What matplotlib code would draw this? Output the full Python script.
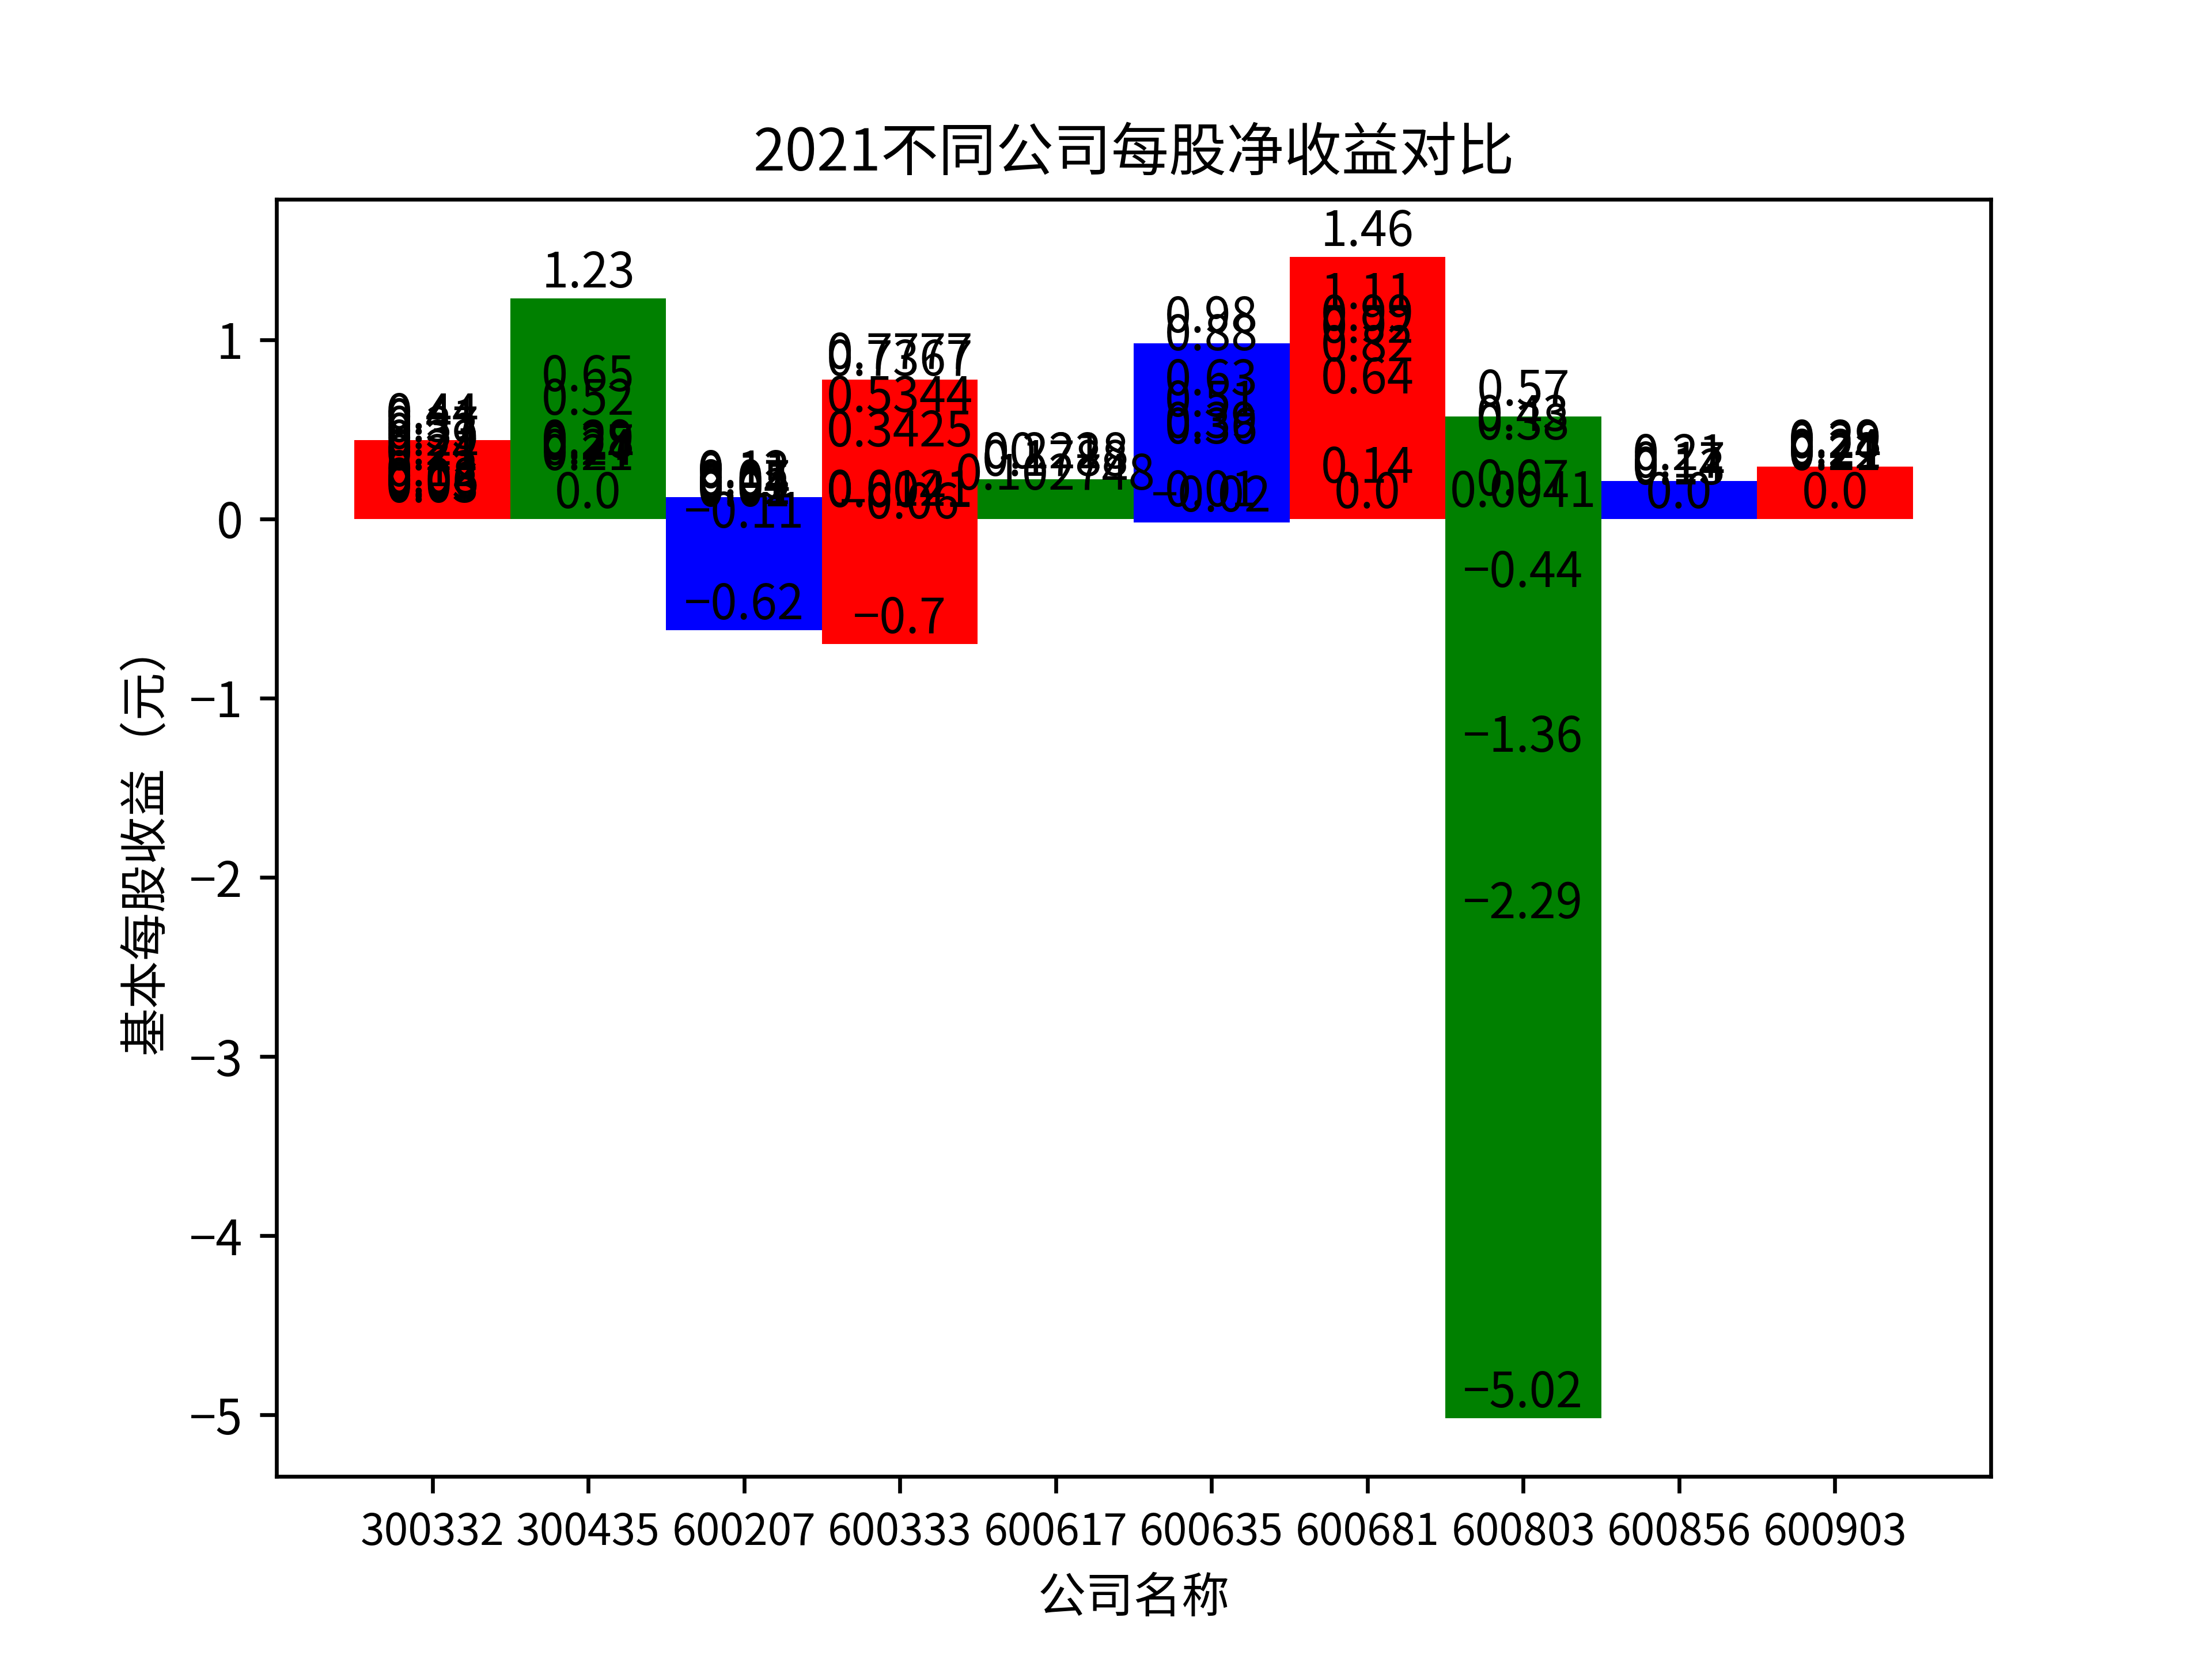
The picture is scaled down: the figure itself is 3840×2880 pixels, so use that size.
import matplotlib
matplotlib.use("Agg")
import matplotlib.pyplot as plt

plt.rcParams['font.family'] = ['Noto Sans CJK SC', 'DejaVu Sans']
plt.rcParams['axes.unicode_minus'] = True

companies = ['300332', '300435', '600207', '600333', '600617',
             '600635', '600681', '600803', '600856', '600903']

eps_300332 = [0.44, 0.41, 0.37, 0.33, 0.29, 0.24, 0.21, 0.12, 0.08, 0.06, 0.05, 0.03]
eps_300435 = [1.23, 0.65, 0.52, 0.29, 0.28, 0.27, 0.24, 0.21, 0.0]
eps_600207 = [0.12, 0.11, 0.07, 0.05, 0.04, 0.02, 0.01, -0.11, -0.62]
eps_600333 = [0.7777, 0.7367, 0.5344, 0.3425, 0.0121, 0.0041, -0.06, -0.7]
eps_600617 = [0.22, 0.2218, 0.1788, 0.102748]
eps_600635 = [0.98, 0.88, 0.63, 0.51, 0.39, 0.36, 0.01, -0.02]
eps_600681 = [1.46, 1.11, 0.99, 0.92, 0.82, 0.64, 0.14, 0.0]
eps_600803 = [0.57, 0.43, 0.38, 0.07, 0.0041, -0.44, -1.36, -2.29, -5.02]
eps_600856 = [0.21, 0.17, 0.14, 0.13, 0.0]
eps_600903 = [0.29, 0.28, 0.24, 0.22, 0.21, 0.0]

all_eps = [eps_300332, eps_300435, eps_600207, eps_600333, eps_600617,
           eps_600635, eps_600681, eps_600803, eps_600856, eps_600903]
colors = ['r', 'g', 'b']

fig, ax = plt.subplots(figsize=(6.4, 4.8), dpi=600)
for i, (name, vals) in enumerate(zip(companies, all_eps)):
    c = colors[i % 3]
    ax.bar([name] * len(vals), vals, width=1.0, color=c)
    for v in vals:
        ax.text(name, v, str(v).replace('-', '\u2212'), ha='center', va='bottom', fontsize=10)

ax.tick_params(axis='x', labelsize=9)
ax.set_title('2021不同公司每股净收益对比')
ax.set_xlabel('公司名称')
ax.set_ylabel('基本每股收益（元）')
fig.savefig('out.png', dpi=600)
